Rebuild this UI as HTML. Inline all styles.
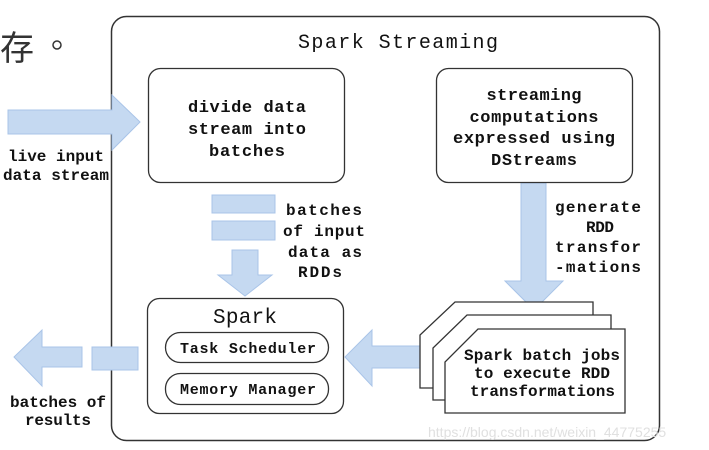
<!DOCTYPE html>
<html><head><meta charset="utf-8"><style>
html,body{margin:0;padding:0;background:#fff;width:709px;height:450px;overflow:hidden}
svg text{font-family:"Liberation Mono",monospace;font-weight:bold;fill:#111}
</style></head><body>
<svg width="709" height="450" viewBox="0 0 709 450" xmlns="http://www.w3.org/2000/svg">
<text x="0" y="60" style="font-family:'Noto Sans CJK SC',sans-serif;font-weight:normal;font-size:34px;fill:#333">存</text>
<circle cx="57" cy="45" r="4" fill="none" stroke="#333" stroke-width="1.5"/>
<rect x="111.5" y="16.5" width="548" height="424" rx="15" fill="none" stroke="#333" stroke-width="1.5"/>
<text x="398" y="48" text-anchor="middle" font-size="20" style="font-weight:normal" textLength="200">Spark Streaming</text>
<g fill="#c5d9f1" stroke="#a9c4e8" stroke-width="1">
<polygon points="8,110 112,110 112,95 140,122 112,150 112,134 8,134"/>
<rect x="212" y="195" width="63" height="18"/>
<rect x="212" y="221" width="63" height="19"/>
<polygon points="232,250 258,250 258,275 272,275 245,296 218,275 232,275"/>
<polygon points="521,183 546,183 546,281 563,281 534,310 505,281 521,281"/>
<polygon points="432,346 372,346 372,330 345,357 372,386 372,368 432,368"/>
<rect x="92" y="347" width="46" height="23"/>
<polygon points="82,347 42,347 42,330 14,357 42,386 42,367 82,367"/>
</g>
<rect x="148.5" y="68.5" width="196" height="114" rx="12" fill="#fff" stroke="#333" stroke-width="1.3"/>
<rect x="436.5" y="68.5" width="196" height="114" rx="12" fill="#fff" stroke="#333" stroke-width="1.3"/>
<rect x="147.5" y="298.5" width="196" height="115" rx="12" fill="#fff" stroke="#333" stroke-width="1.3"/>
<rect x="165.5" y="332.5" width="163" height="30" rx="15" fill="#fff" stroke="#333" stroke-width="1.3"/>
<rect x="165.5" y="373.5" width="163" height="31" rx="15" fill="#fff" stroke="#333" stroke-width="1.3"/>
<g fill="#fff" stroke="#333" stroke-width="1.3">
<polygon points="420,335 420,388 593,388 593,302 455,302"/>
<polygon points="433,348 433,400 611,400 611,315 467,315"/>
<polygon points="445,362 445,413 625,413 625,329 478,329"/>
</g>
<g font-size="17" text-anchor="middle">
<text x="247" y="112" textLength="118">divide data</text>
<text x="247" y="134" textLength="118">stream into</text>
<text x="247" y="156" textLength="76">batches</text>
<text x="534" y="100" textLength="95">streaming</text>
<text x="534" y="122" textLength="129">computations</text>
<text x="534" y="143" textLength="162">expressed using</text>
<text x="534" y="165" textLength="86">DStreams</text>
<text x="245" y="323" font-size="21" style="font-weight:normal" textLength="64">Spark</text>
</g>
<g font-size="16">
<text x="8" y="161" textLength="96">live input</text>
<text x="3" y="180" textLength="106">data stream</text>
<text x="286" y="215" textLength="76">batches</text>
<text x="283" y="236" textLength="82">of input</text>
<text x="288" y="257" textLength="74">data as</text>
<text x="298" y="277" textLength="44">RDDs</text>
<text x="555" y="212" textLength="86">generate</text>
<text x="586" y="232" textLength="28">RDD</text>
<text x="555" y="252" textLength="86">transfor</text>
<text x="555" y="272" textLength="86">-mations</text>
<text x="10" y="407" textLength="96">batches of</text>
<text x="25" y="425" textLength="66">results</text>
<text x="180" y="353" textLength="136" font-size="15">Task Scheduler</text>
<text x="180" y="394" textLength="136" font-size="15">Memory Manager</text>
<text x="464" y="360" textLength="156">Spark batch jobs</text>
<text x="474" y="378" textLength="136">to execute RDD</text>
<text x="470" y="396" textLength="145">transformations</text>
</g>
<text x="428" y="437" style="font-family:'Liberation Sans',sans-serif;font-weight:normal;fill:#e0e0e0" font-size="14">https://blog.csdn.net/weixin_44775255</text>
</svg>
</body></html>
